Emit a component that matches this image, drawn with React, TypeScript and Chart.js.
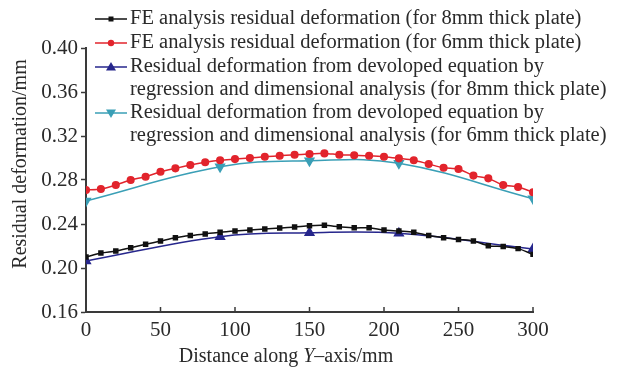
import React, { useEffect, useRef } from "react";
import { Chart, registerables } from "chart.js";

Chart.register(...registerables);

const xFE = [0, 10, 20, 30, 40, 50, 60, 70, 80, 90, 100, 110, 120, 130, 140, 150, 160, 170, 180, 190, 200, 210, 220, 230, 240, 250, 260, 270, 280, 290, 300];
const fe8 = [0.210, 0.2136, 0.2155, 0.2185, 0.2215, 0.2245, 0.2275, 0.2295, 0.231, 0.2325, 0.2336, 0.2345, 0.2355, 0.2364, 0.2373, 0.2385, 0.2388, 0.2375, 0.2365, 0.2365, 0.2345, 0.2336, 0.2325, 0.2295, 0.2275, 0.226, 0.2245, 0.2203, 0.2195, 0.2176, 0.2124];
const fe6 = [0.2709, 0.2718, 0.2755, 0.280, 0.283, 0.2875, 0.2906, 0.2936, 0.2961, 0.298, 0.299, 0.300, 0.3012, 0.302, 0.303, 0.3036, 0.3042, 0.303, 0.3025, 0.302, 0.3012, 0.2997, 0.298, 0.2945, 0.2912, 0.290, 0.284, 0.2815, 0.2755, 0.2736, 0.2688];
const xEq = [0, 90, 150, 210, 300];
const eq8 = [0.2064, 0.2285, 0.232, 0.2315, 0.2173];
const eq6 = [0.261, 0.292, 0.2975, 0.2952, 0.263];

const legendLabels = [
  ["FE analysis residual deformation (for 8mm thick plate)"],
  ["FE analysis residual deformation (for 6mm thick plate)"],
  ["Residual deformation from devoloped equation by", "regression and dimensional analysis (for 8mm thick plate)"],
  ["Residual deformation from devoloped equation by", "regression and dimensional analysis (for 6mm thick plate)"],
];
const yTitle = "Residual deformation/mm";
const xTitleParts = ["Distance along ", "Y", "\u2013axis/mm"];

const FONT = "'Liberation Serif', 'DejaVu Serif', serif";
const TEXT = "#2a2a2a";
const AXIS = "#3a3a3a";

const colors = ["#111111", "#e2242c", "#26268c", "#3a9fb6"];

const toPts = (xs: number[], ys: number[]) => xs.map((x, i) => ({ x, y: ys[i] }));

const customPlugin = {
  id: "custom",
  afterDraw(chart: any) {
    const ctx = chart.ctx;
    const xs = chart.scales.x;
    const area = chart.chartArea;
    ctx.save();
    // inward x ticks
    ctx.strokeStyle = AXIS;
    ctx.lineWidth = 1.5;
    xs.ticks.forEach((t: any) => {
      const px = xs.getPixelForValue(t.value);
      ctx.beginPath();
      ctx.moveTo(px, area.bottom);
      ctx.lineTo(px, area.bottom - 5);
      ctx.stroke();
    });
    // legend
    const rowY = [19, 43, 67, 113];
    const lineH = 23;
    ctx.font = `20.5px ${FONT}`;
    ctx.textBaseline = "middle";
    ctx.textAlign = "left";
    chart.data.datasets.forEach((ds: any, i: number) => {
      const y = rowY[i];
      ctx.strokeStyle = ds.borderColor;
      ctx.lineWidth = 1.5;
      ctx.beginPath();
      ctx.moveTo(95, y);
      ctx.lineTo(127, y);
      ctx.stroke();
      ctx.fillStyle = ds.pointBackgroundColor;
      ctx.beginPath();
      if (i < 2) {
        if (i === 0) {
          ctx.rect(108.5, y - 2.5, 5, 5);
        } else {
          ctx.arc(111, y, 3.2, 0, Math.PI * 2);
        }
      } else if (i === 2) {
        ctx.moveTo(111, y - 5);
        ctx.lineTo(116, y + 3.5);
        ctx.lineTo(106, y + 3.5);
        ctx.closePath();
      } else {
        ctx.moveTo(111, y + 5);
        ctx.lineTo(116, y - 3.5);
        ctx.lineTo(106, y - 3.5);
        ctx.closePath();
      }
      ctx.fill();
      ctx.fillStyle = TEXT;
      legendLabels[i].forEach((line, j) => {
        ctx.fillText(line, 130, y + j * lineH);
      });
    });
    // y title
    ctx.font = `20px ${FONT}`;
    ctx.save();
    ctx.translate(21, 164);
    ctx.rotate(-Math.PI / 2);
    ctx.textAlign = "center";
    ctx.fillStyle = TEXT;
    ctx.fillText(yTitle, 0, 0);
    ctx.restore();
    // x title
    const fNorm = `20px ${FONT}`;
    const fIt = `italic 20px ${FONT}`;
    ctx.font = fNorm;
    const w0 = ctx.measureText(xTitleParts[0]).width;
    const w2 = ctx.measureText(xTitleParts[2]).width;
    ctx.font = fIt;
    const w1 = ctx.measureText(xTitleParts[1]).width;
    const total = w0 + w1 + w2;
    let cx = 286 - total / 2;
    const ty = 357;
    ctx.fillStyle = TEXT;
    ctx.font = fNorm;
    ctx.fillText(xTitleParts[0], cx, ty);
    cx += w0;
    ctx.font = fIt;
    ctx.fillText(xTitleParts[1], cx, ty);
    cx += w1;
    ctx.font = fNorm;
    ctx.fillText(xTitleParts[2], cx, ty);
    ctx.restore();
  },
};

export default function App() {
  const ref = useRef<HTMLCanvasElement>(null);
  useEffect(() => {
    if (!ref.current) return;
    const chart = new Chart(ref.current, {
      type: "line",
      data: {
        datasets: [
          {
            label: legendLabels[0].join(" "),
            data: toPts(xFE, fe8),
            borderColor: colors[0],
            backgroundColor: colors[0],
            pointBackgroundColor: colors[0],
            pointBorderColor: colors[0],
            pointStyle: "rect",
            pointRadius: 2.8,
            borderWidth: 1.5,
            tension: 0.3,
          },
          {
            label: legendLabels[1].join(" "),
            data: toPts(xFE, fe6),
            borderColor: colors[1],
            backgroundColor: colors[1],
            pointBackgroundColor: colors[1],
            pointBorderColor: colors[1],
            pointStyle: "circle",
            pointRadius: 3.3,
            borderWidth: 1.5,
            tension: 0.3,
          },
          {
            label: legendLabels[2].join(" "),
            data: toPts(xEq, eq8),
            borderColor: colors[2],
            backgroundColor: colors[2],
            pointBackgroundColor: colors[2],
            pointBorderColor: colors[2],
            pointStyle: "triangle",
            pointRadius: 5,
            borderWidth: 1.5,
            tension: 0.4,
          },
          {
            label: legendLabels[3].join(" "),
            data: toPts(xEq, eq6),
            borderColor: colors[3],
            backgroundColor: colors[3],
            pointBackgroundColor: colors[3],
            pointBorderColor: colors[3],
            pointStyle: "triangle",
            pointRotation: 180,
            pointRadius: 5,
            borderWidth: 1.5,
            tension: 0.4,
          },
        ],
      },
      options: {
        animation: false,
        responsive: true,
        maintainAspectRatio: false,
        layout: { padding: { top: 48, right: 85, left: 0, bottom: 0 } },
        plugins: { legend: { display: false }, tooltip: { enabled: false } },
        scales: {
          x: {
            type: "linear",
            min: 0,
            max: 300,
            ticks: { stepSize: 50, color: TEXT, font: { family: FONT, size: 21 }, padding: 6, maxRotation: 0 },
            grid: { display: true, drawOnChartArea: false, drawTicks: false, color: AXIS },
            border: { display: true, color: AXIS, width: 2 },
            afterFit: (s: any) => { s.height = 58; },
          },
          y: {
            min: 0.16,
            max: 0.40,
            ticks: {
              stepSize: 0.04,
              color: TEXT,
              font: { family: FONT, size: 21 },
              padding: 3,
              callback: (v: any) => Number(v).toFixed(2),
            },
            grid: { display: true, drawOnChartArea: false, drawTicks: true, tickLength: 5, color: AXIS, tickWidth: 1.5 },
            border: { display: true, color: AXIS, width: 2 },
            afterFit: (s: any) => { s.width = 86; },
          },
        },
      },
      plugins: [customPlugin],
    });
    return () => chart.destroy();
  }, []);
  return (
    <div style={{ position: "absolute", left: 0, top: 0, width: 618, height: 370, background: "#fff" }}>
      <canvas ref={ref} />
    </div>
  );
}
